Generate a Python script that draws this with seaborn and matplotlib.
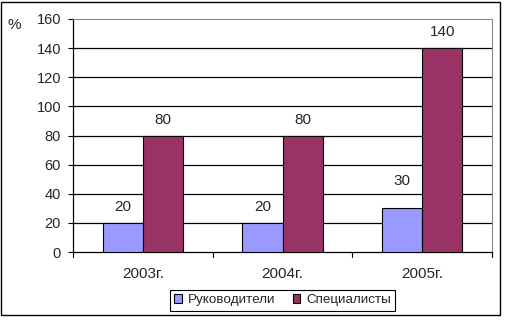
import matplotlib
matplotlib.use("Agg")
import matplotlib.pyplot as plt
import seaborn as sns
import pandas as pd
from matplotlib.patches import Rectangle

years = ["2003г.", "2004г.", "2005г."]
series_names = ["Руководители", "Специалисты"]
rukovoditeli = [20, 20, 30]
specialisty = [80, 80, 140]
yticks = [0, 20, 40, 60, 80, 100, 120, 140, 160]

df = pd.DataFrame({
    "year": years * 2,
    "group": [series_names[0]] * 3 + [series_names[1]] * 3,
    "value": rukovoditeli + specialisty,
})

sns.set_style("white")
plt.rcParams["font.family"] = ["Liberation Sans", "DejaVu Sans"]

fig = plt.figure(figsize=(5.07, 3.23), dpi=100)
ax = fig.add_axes([73/507, 1-252/323, (492-73)/507, (252-19)/323])

palette = {series_names[0]: "#9999FF", series_names[1]: "#993366"}
sns.barplot(data=df, x="year", y="value", hue="group", palette=palette,
            width=0.574, edgecolor="black", linewidth=0.8, saturation=1,
            ax=ax, zorder=3, legend=True)

ax.set_ylim(0, 160)
ax.set_yticks(yticks)
ax.set_yticklabels([str(t) for t in yticks], fontsize=10.5)
ax.tick_params(axis="x", labelsize=11, length=0, pad=11)
ax.tick_params(axis="y", length=3.6, width=0.8, color="black", direction="out", left=True, pad=5)
ax.set_xlabel("")
ax.set_ylabel("")
for t in yticks[1:-1]:
    ax.axhline(t, color="black", linewidth=0.9, zorder=1)
ax.spines["left"].set_color("black")
ax.spines["left"].set_linewidth(0.9)
ax.spines["bottom"].set_color("black")
ax.spines["bottom"].set_linewidth(0.9)
for s in ["top", "right"]:
    ax.spines[s].set_color("#888888")
    ax.spines[s].set_linestyle((0, (1, 1)))
    ax.spines[s].set_linewidth(0.8)

ax.set_xlim(-0.5, 2.5)
for xb in [-0.5, 0.5, 1.5, 2.5]:
    ax.plot([xb, xb], [0, -3.5], color="black", linewidth=0.8, clip_on=False)

# value labels above bars (the 30 label sits higher in the original)
label_offsets = {0: [11.5, 11.5, 20], 1: [11.5, 11.5, 11.5]}
for ci, cont in enumerate(ax.containers):
    for bi, patch in enumerate(cont.patches):
        h = patch.get_height()
        ax.annotate(f"{h:g}", (patch.get_x() + patch.get_width() / 2, h),
                    xytext=(0, label_offsets[ci][bi]), textcoords="offset points",
                    ha="center", va="center", fontsize=11)

handles, labels = ax.get_legend_handles_labels()
ax.legend(handles, labels, loc="upper center", bbox_to_anchor=(0.5, -0.163),
          ncol=2, frameon=True, fancybox=False, edgecolor="black",
          fontsize=9.7, handlelength=0.55, handleheight=0.55, handletextpad=0.45,
          columnspacing=1.3, borderpad=0.32, borderaxespad=0, framealpha=1)
ax.get_legend().get_frame().set_linewidth(0.8)

fig.text(8/507, 1-25/323, "%", fontsize=11, ha="left", va="center")
fig.patches.append(Rectangle((1/507, 1-315/323), 499/507, 313/323,
                             transform=fig.transFigure, fill=False,
                             edgecolor="black", linewidth=1))

fig.savefig("out.png", dpi=100)
